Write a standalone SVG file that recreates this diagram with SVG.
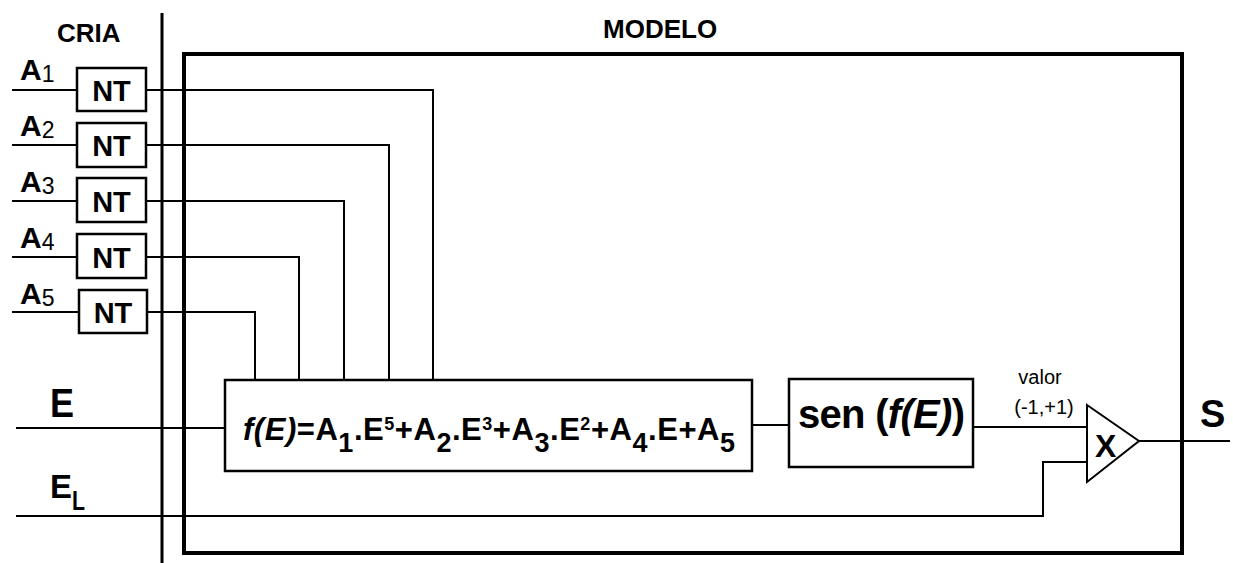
<svg xmlns="http://www.w3.org/2000/svg" width="1233" height="563" viewBox="0 0 1233 563">
  <style>
    text { font-family: "Liberation Sans", Arial, sans-serif; fill: #000; }
    .hdr { font-size: 26px; font-weight: bold; }
    .alab { font-size: 30px; font-weight: bold; }
    .adig { font-size: 23px; font-weight: normal; }
    .nt { font-size: 29px; font-weight: bold; text-anchor: middle; }
    .box { fill: #fff; stroke: #000; stroke-width: 2.5; }
    .wire { fill: none; stroke: #000; stroke-width: 2; }
    .fx { font-size: 31px; font-weight: bold; }
    .sub { font-size: 27px; }
    .sup { font-size: 18px; }
    .small { font-size: 20px; }
  </style>

  <!-- frame: divider and model outline -->
  <g id="frame">
    <line x1="162" y1="13" x2="162" y2="563" stroke="#000" stroke-width="3"/>
    <rect x="184" y="54" width="998" height="499" fill="none" stroke="#000" stroke-width="4"/>
    <text class="hdr" x="57" y="42">CRIA</text>
    <text class="hdr" x="603" y="38">MODELO</text>
  </g>

  <!-- connectors -->
  <g id="connectors">
    <!-- raw inputs into the NT converters -->
    <line class="wire" x1="12" y1="90" x2="77" y2="90"/>
    <line class="wire" x1="12" y1="145" x2="77" y2="145"/>
    <line class="wire" x1="12" y1="201" x2="77" y2="201"/>
    <line class="wire" x1="12" y1="257" x2="77" y2="257"/>
    <line class="wire" x1="12" y1="312" x2="79" y2="312"/>
    <!-- coefficients routed down into the polynomial -->
    <polyline class="wire" points="146,90 433,90 433,380"/>
    <polyline class="wire" points="146,145 389,145 389,380"/>
    <polyline class="wire" points="146,201 344,201 344,380"/>
    <polyline class="wire" points="146,257 299,257 299,380"/>
    <polyline class="wire" points="147,312 255,312 255,380"/>
    <!-- signal path -->
    <line class="wire" x1="16" y1="428" x2="225" y2="428"/>
    <line class="wire" x1="752" y1="425" x2="789" y2="425"/>
    <line class="wire" x1="973" y1="427" x2="1087" y2="427"/>
    <polyline class="wire" points="16,516 1043,516 1043,462 1087,462"/>
    <line class="wire" x1="1139" y1="441" x2="1230" y2="441"/>
  </g>

  <!-- input labels -->
  <g id="labels">
    <text x="20" y="80"><tspan class="alab">A</tspan><tspan class="adig" dy="2">1</tspan></text>
    <text x="20" y="136"><tspan class="alab">A</tspan><tspan class="adig" dy="2">2</tspan></text>
    <text x="20" y="192"><tspan class="alab">A</tspan><tspan class="adig" dy="2">3</tspan></text>
    <text x="20" y="248"><tspan class="alab">A</tspan><tspan class="adig" dy="2">4</tspan></text>
    <text x="20" y="304"><tspan class="alab">A</tspan><tspan class="adig" dy="2">5</tspan></text>
    <text x="50" y="417" font-size="40" font-weight="bold" textLength="24" lengthAdjust="spacingAndGlyphs">E</text>
    <text x="50" y="498" font-size="34" font-weight="bold" textLength="22" lengthAdjust="spacingAndGlyphs">E</text>
    <text x="72" y="510" font-size="27" font-weight="bold" textLength="13" lengthAdjust="spacingAndGlyphs">L</text>
    <text x="1200" y="427" font-size="38" font-weight="bold">S</text>
    <text class="small" x="1040" y="384" text-anchor="middle">valor</text>
    <text class="small" x="1044" y="414" text-anchor="middle">(-1,+1)</text>
  </g>

  <!-- NT converters -->
  <g id="nt1"><rect class="box" x="77" y="68" width="69" height="43"/><text class="nt" x="111.5" y="101">NT</text></g>
  <g id="nt2"><rect class="box" x="77" y="123" width="69" height="44"/><text class="nt" x="111.5" y="156">NT</text></g>
  <g id="nt3"><rect class="box" x="77" y="178" width="69" height="44"/><text class="nt" x="111.5" y="212">NT</text></g>
  <g id="nt4"><rect class="box" x="77" y="234" width="69" height="44"/><text class="nt" x="111.5" y="268">NT</text></g>
  <g id="nt5"><rect class="box" x="79" y="290" width="68" height="43"/><text class="nt" x="113" y="323">NT</text></g>

  <!-- polynomial block -->
  <g id="poly">
    <rect class="box" x="225" y="380" width="527" height="91"/>
    <text class="fx" x="243" y="440" textLength="492" lengthAdjust="spacing"><tspan font-style="italic">f(E)</tspan>=A<tspan class="sub" dy="12">1</tspan><tspan dy="-12">.E</tspan><tspan class="sup" dy="-10">5</tspan><tspan dy="10">+A</tspan><tspan class="sub" dy="12">2</tspan><tspan dy="-12">.E</tspan><tspan class="sup" dy="-10">3</tspan><tspan dy="10">+A</tspan><tspan class="sub" dy="12">3</tspan><tspan dy="-12">.E</tspan><tspan class="sup" dy="-10">2</tspan><tspan dy="10">+A</tspan><tspan class="sub" dy="12">4</tspan><tspan dy="-12">.E+A</tspan><tspan class="sub" dy="12">5</tspan></text>
  </g>

  <!-- sine block -->
  <g id="sine">
    <rect class="box" x="789" y="379" width="184" height="88"/>
    <text x="798" y="428" font-size="40" font-weight="bold" textLength="167" lengthAdjust="spacing">sen (<tspan font-style="italic">f(E)</tspan>)</text>
  </g>

  <!-- multiplier -->
  <g id="mult">
    <polygon points="1087,405 1139,441 1087,482" fill="#fff" stroke="#000" stroke-width="2"/>
    <text x="1095" y="457" font-size="32" font-weight="bold">X</text>
  </g>
</svg>
